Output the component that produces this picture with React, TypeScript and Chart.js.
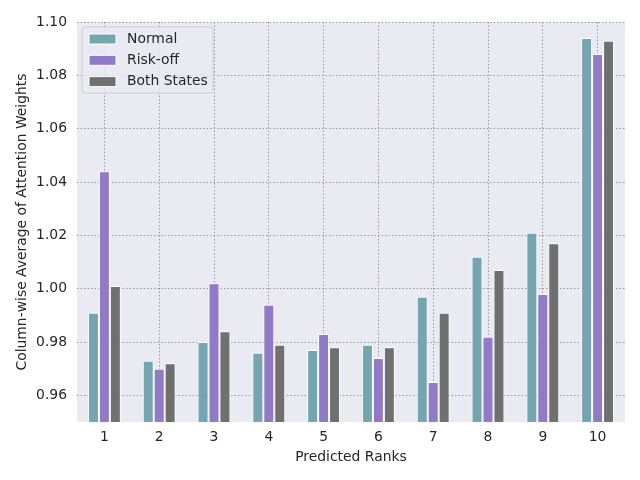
import React, { useEffect, useRef } from "react";
import { Chart, registerables } from "chart.js";

Chart.register(...registerables);

const categories = ["1", "2", "3", "4", "5", "6", "7", "8", "9", "10"];
const normal = [0.991, 0.973, 0.980, 0.976, 0.977, 0.979, 0.997, 1.012, 1.021, 1.094];
const riskOff = [1.044, 0.970, 1.002, 0.994, 0.983, 0.974, 0.965, 0.982, 0.998, 1.088];
const bothStates = [1.001, 0.972, 0.984, 0.979, 0.978, 0.978, 0.991, 1.007, 1.017, 1.093];
const yTicks = [0.96, 0.98, 1.0, 1.02, 1.04, 1.06, 1.08, 1.1];

const seriesLabels = ["Normal", "Risk-off", "Both States"];
const seriesColors = ["rgb(116,165,176)", "rgb(145,123,198)", "rgb(112,112,112)"];

const FONT = "'DejaVu Sans', sans-serif";
const FS = 13.9;
const TEXT = "#262626";

const bgPlugin = {
  id: "bgPlugin",
  beforeDraw(chart: any) {
    const { ctx, chartArea } = chart;
    ctx.save();
    ctx.fillStyle = "#EAEAF2";
    ctx.fillRect(chartArea.left, chartArea.top, chartArea.right - chartArea.left, chartArea.bottom - chartArea.top);
    ctx.restore();
  },
};

const legendPlugin = {
  id: "legendPlugin",
  afterDraw(chart: any) {
    const { ctx, chartArea } = chart;
    const x = chartArea.left + 5;
    const y = chartArea.top + 5;
    const w = 131;
    const h = 66;
    ctx.save();
    ctx.beginPath();
    const r = 3;
    ctx.moveTo(x + r, y);
    ctx.lineTo(x + w - r, y);
    ctx.quadraticCurveTo(x + w, y, x + w, y + r);
    ctx.lineTo(x + w, y + h - r);
    ctx.quadraticCurveTo(x + w, y + h, x + w - r, y + h);
    ctx.lineTo(x + r, y + h);
    ctx.quadraticCurveTo(x, y + h, x, y + h - r);
    ctx.lineTo(x, y + r);
    ctx.quadraticCurveTo(x, y, x + r, y);
    ctx.closePath();
    ctx.fillStyle = "rgba(234,234,242,0.8)";
    ctx.fill();
    ctx.strokeStyle = "#cccccc";
    ctx.lineWidth = 1;
    ctx.stroke();
    ctx.font = `${FS}px ${FONT}`;
    ctx.textBaseline = "middle";
    ctx.fillStyle = TEXT;
    chart.data.datasets.forEach((ds: any, i: number) => {
      const cy = y + 12 + i * 21.3;
      ctx.fillStyle = ds.backgroundColor;
      ctx.fillRect(x + 7, cy - 5, 27, 10);
      ctx.strokeStyle = "#ffffff";
      ctx.strokeRect(x + 7, cy - 5, 27, 10);
      ctx.fillStyle = TEXT;
      ctx.fillText(ds.label, x + 45, cy);
    });
    ctx.restore();
  },
};

export default function App() {
  const ref = useRef<HTMLCanvasElement | null>(null);
  useEffect(() => {
    if (!ref.current) return;
    const datasets = [normal, riskOff, bothStates].map((d, i) => ({
      label: seriesLabels[i],
      data: d,
      backgroundColor: seriesColors[i],
      borderColor: "#ffffff",
      borderWidth: 1,
      categoryPercentage: 0.6,
      barPercentage: 1.0,
      base: 0.95,
    }));
    const grid = {
      color: "#9a9a9a",
      lineWidth: 1,
      drawTicks: false,
    };
    const chart = new Chart(ref.current, {
      type: "bar",
      data: { labels: categories, datasets },
      options: {
        responsive: false,
        animation: false,
        layout: { padding: { top: 22, right: 15, left: 0, bottom: 0 } },
        plugins: { legend: { display: false }, tooltip: { enabled: false } },
        scales: {
          x: {
            offset: true,
            grid: { ...grid, offset: false },
            border: { display: false, dash: [1.5, 2] },
            ticks: { color: TEXT, font: { family: FONT, size: FS }, padding: 7, maxRotation: 0 },
            title: {
              display: true,
              text: "Predicted Ranks",
              color: TEXT,
              font: { family: FONT, size: FS },
              padding: { top: 0, bottom: 14.7 },
            },
            afterFit: (axis: any) => {
              axis.height = 58;
            },
          },
          y: {
            min: 0.95,
            max: 1.1,
            grid,
            border: { display: false, dash: [1.5, 2] },
            ticks: {
              color: TEXT,
              font: { family: FONT, size: FS },
              padding: 10,
              callback: (v: any) => Number(v).toFixed(2),
            },
            afterBuildTicks: (axis: any) => {
              axis.ticks = yTicks.map((v) => ({ value: v }));
            },
            title: {
              display: true,
              text: "Column-wise Average of Attention Weights",
              color: TEXT,
              font: { family: FONT, size: FS },
              padding: { top: 14, bottom: 0 },
            },
            afterFit: (axis: any) => {
              axis.width = 77;
            },
          },
        },
      } as any,
      plugins: [bgPlugin, legendPlugin],
    });
    return () => chart.destroy();
  }, []);
  return (
    <div style={{ position: "fixed", left: 0, top: 0, width: 640, height: 480, background: "#ffffff" }}>
      <canvas ref={ref} width={640} height={480} style={{ width: 640, height: 480 }} />
    </div>
  );
}
